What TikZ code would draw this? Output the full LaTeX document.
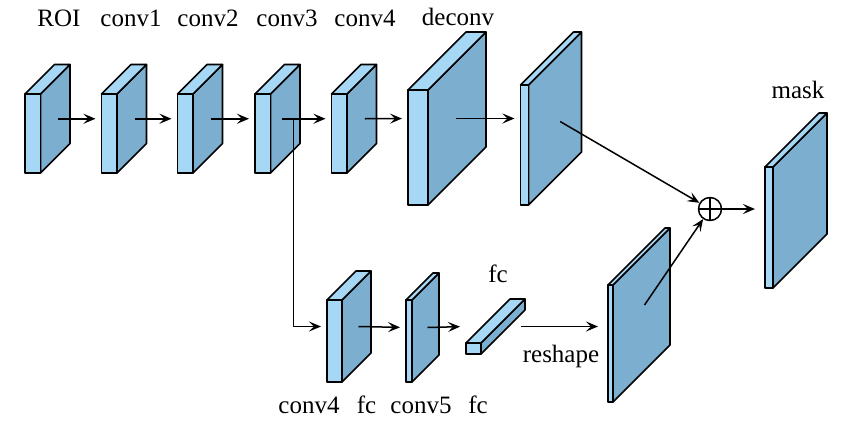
\documentclass[tikz,border=0pt]{standalone}
\usepackage{fontspec}
\setmainfont{Liberation Serif}
\usepackage{tikz}
\usetikzlibrary{arrows.meta,calc}

\definecolor{frontcol}{RGB}{166,216,245}
\definecolor{sidecol}{RGB}{124,174,207}

% feature map: name, x, y (front top left), width, height, depth
\newcommand{\featmap}[6]{%
	\filldraw[fill=sidecol] (#2+#4,#3) -- ++(#6,-#6) -- ++(0,#5) -- ++(-#6,#6) -- cycle;
	\filldraw[fill=frontcol] (#2,#3) -- ++(#6,-#6) -- ++(#4,0) -- ++(-#6,#6) -- cycle;
	\filldraw[fill=frontcol] (#2,#3) rectangle ++(#4,#5);
	\coordinate (#1-c) at (#2+#4+#6/2,#3+#5/2-#6/2);
	\coordinate (#1-a) at (#2,#3+#5/2-#6/2);
}

\begin{document}
\begin{tikzpicture}[x=1pt,y=-1pt,line width=1.6pt,line join=round,
		arr/.style={line width=1.5pt,-{Stealth[length=12pt,width=10pt,inset=5pt]},shorten >=6pt},
		lbl/.style={anchor=base,inner sep=0pt,font=\fontspec{Liberation Serif}\fontsize{25}{28}\selectfont},
		plus/.style={circle,draw,line width=1.5pt,minimum size=23pt,inner sep=0pt,
			path picture={\draw (path picture bounding box.north) -- (path picture bounding box.south)
				(path picture bounding box.west) -- (path picture bounding box.east);}}]
		\useasboundingbox (0,0) rectangle (859,426);
		
		\featmap{roi}{25}{94}{15.5}{79}{29.5}
		\featmap{conva}{101.5}{94}{15.5}{79}{29.5}
		\featmap{convb}{177.5}{94}{15.5}{79}{29.5}
		\featmap{convc}{255}{94}{15.5}{79}{29.5}
		\featmap{convd}{331.5}{94}{15.5}{79}{29.5}
		\featmap{deconv}{408}{90}{20}{115}{58}
		\featmap{upmap}{520.5}{85}{8}{120}{53}
		\featmap{mask}{765}{167}{8}{121}{54}
		\featmap{cfcd}{327}{300}{15}{82}{29}
		\featmap{cfce}{406}{300}{6}{82}{27}
		\featmap{fc}{466}{343}{15}{11}{44}
		\featmap{resh}{608}{285}{5}{117}{57}
		
		\node[plus] (sum) at (710,209) {};
		
		\node[lbl] (t-roi) at (59,26) {ROI};
		\node[lbl] (t-conva) at (131,26) {conv1};
		\node[lbl] (t-convb) at (208,26) {conv2};
		\node[lbl] (t-convc) at (287,26) {conv3};
		\node[lbl] (t-convd) at (365,26) {conv4};
		\node[lbl] (t-deconv) at (458,25) {deconv};
		\node[lbl] (t-mask) at (798,98) {mask};
		\node[lbl] (t-fc) at (498,282) {fc};
		\node[lbl] (t-resh) at (561,362) {reshape};
		\node[lbl] (t-cfcd) at (309,413) {conv4};
		\node[lbl] (t-fcd) at (366.5,413) {fc};
		\node[lbl] (t-cfce) at (421,413) {conv5};
		\node[lbl] (t-fce) at (478,413) {fc};
		
		\draw[arr] ([xshift=3pt]roi-c) -- (conva-a);
		\draw[arr] ([xshift=3pt]conva-c) -- (convb-a);
		\draw[arr] ([xshift=3pt]convb-c) -- (convc-a);
		\draw[arr] ([xshift=-3pt]convc-c) -- (convd-a);
		\draw[arr] ([xshift=3pt]convd-c) -- (deconv-a);
		\draw[arr] ([xshift=-1pt]deconv-c) -- (upmap-a);
		\draw[arr] ([xshift=8pt]convc-c) |- (cfcd-a);
		\draw[arr] ([xshift=2pt]cfcd-c) -- (cfce-a);
		\draw[arr] ([xshift=2pt]cfce-c) -- (fc-a);
		\draw[arr,shorten <=18pt,shorten >=10pt] (fc-c) -- (fc-c -| resh-a);
		\draw[arr,shorten >=0pt,shorten <=6pt] (upmap-c) -- (sum);
		\draw[arr,shorten >=0pt] ([shift={(3pt,10pt)}]resh-c) -- (sum);
		\draw[arr,shorten >=10pt,shorten <=0pt] (sum) -- (sum -| mask-a);
	\end{tikzpicture}
\end{document}
